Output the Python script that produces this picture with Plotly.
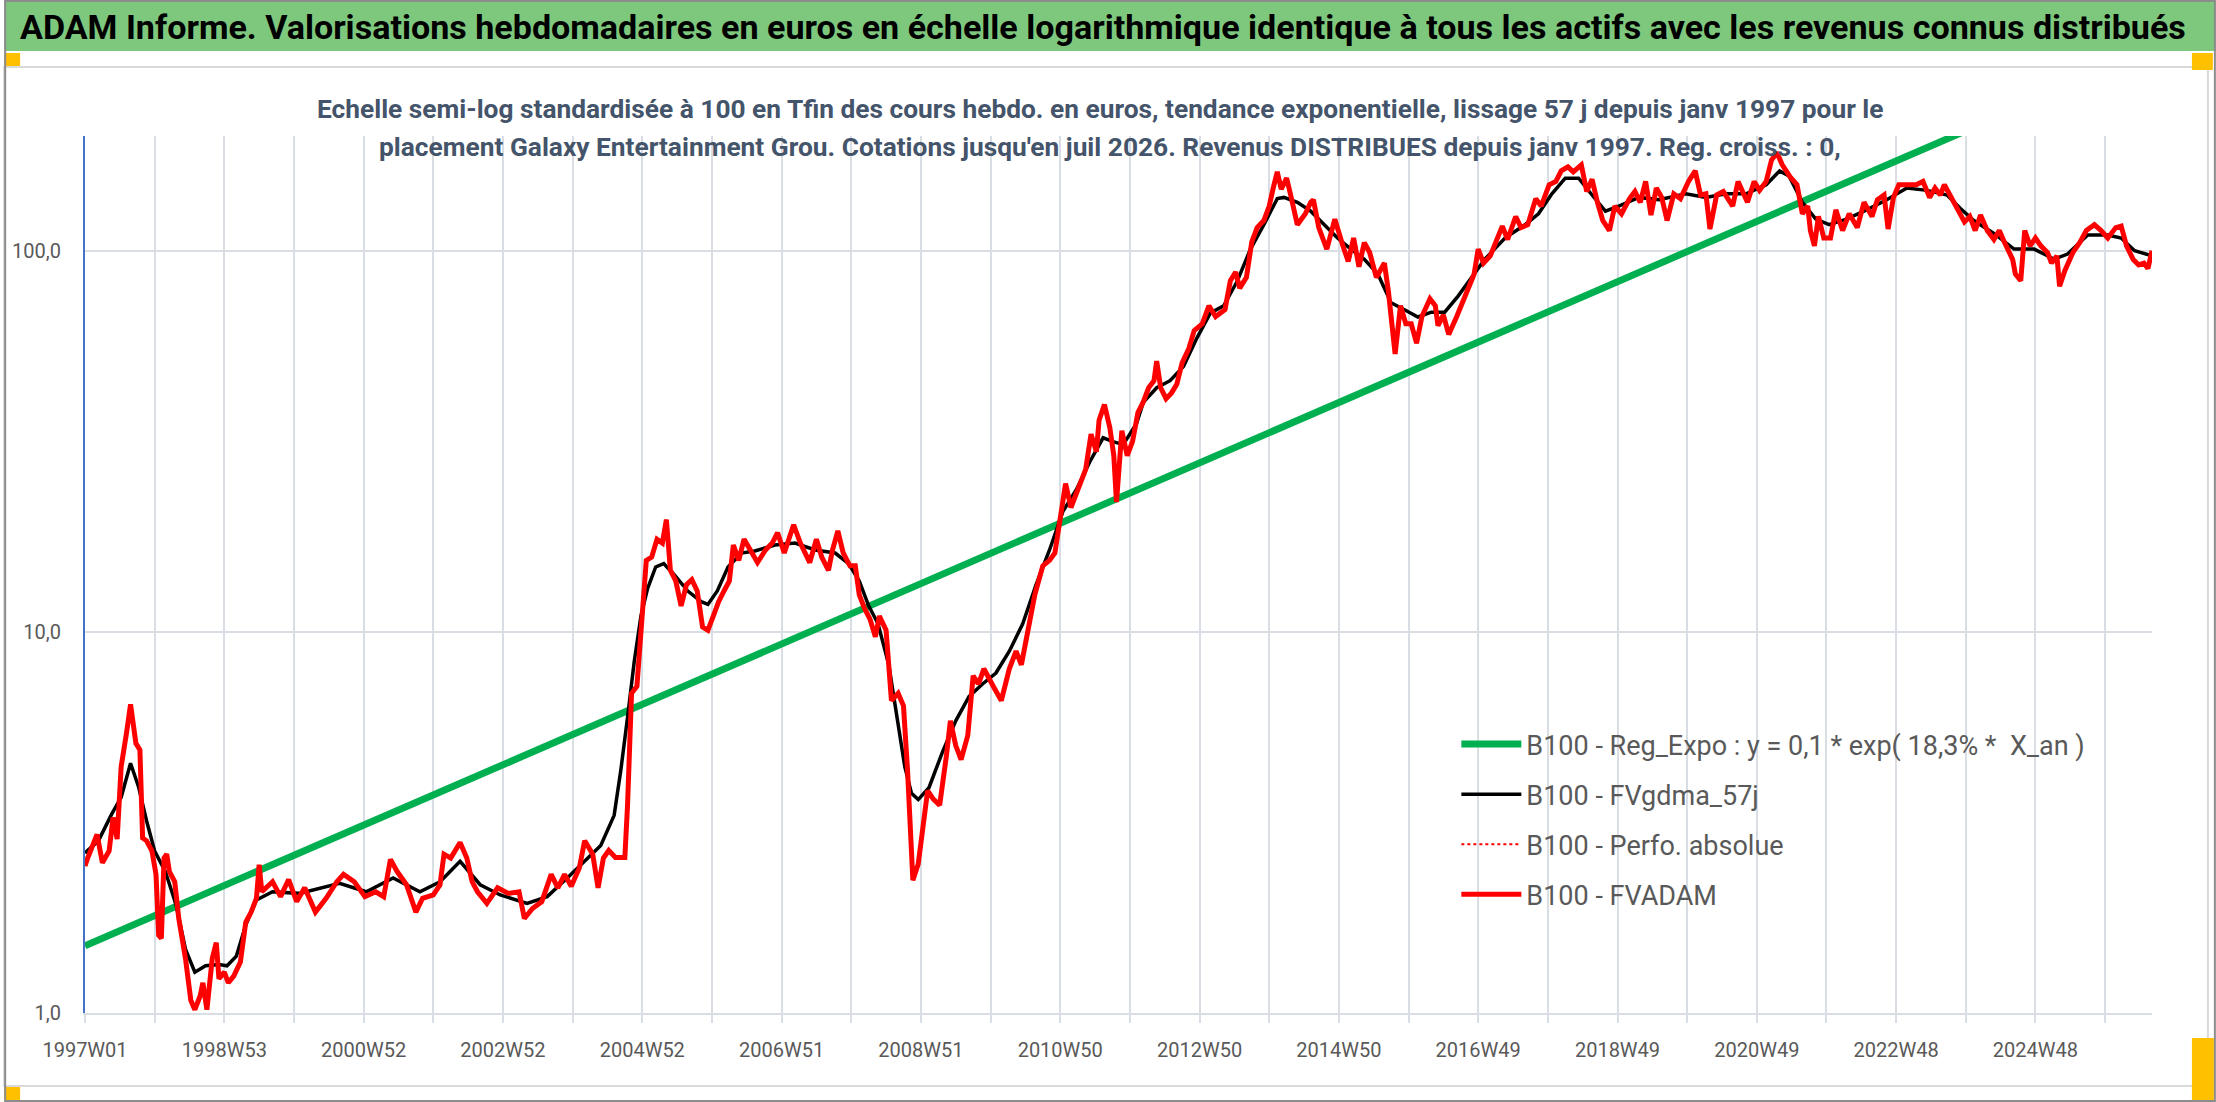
"""ADAM weekly valuation chart (log scale) rebuilt with Plotly."""

from datetime import date, timedelta

import plotly.graph_objects as go

# --- data -----------------------------------------------------------------

N_WEEKS = 1544  # 1997W01 .. 2026W31

# FVADAM (red), sampled weekly index -> value
fvadam_week = [
    0, 2, 9, 13, 18, 21, 24, 27, 31, 34, 38, 41, 43, 46, 50, 53, 55, 57, 59, 61,
    63, 67, 70, 75, 79, 82, 86, 88, 91, 95, 98, 100, 104, 107, 111, 116, 120, 124, 128, 130,
    132, 140, 146, 152, 158, 164, 172, 180, 188, 193, 201, 209, 217, 223, 228, 233, 240, 247, 252, 260,
    265, 268, 273, 280, 285, 289, 293, 300, 308, 316, 324, 328, 334, 341, 348, 353, 358, 363, 369, 373,
    379, 383, 387, 391, 396, 403, 405, 408, 412, 415, 419, 423, 427, 431, 434, 437, 441, 445, 449, 453,
    457, 461, 465, 469, 473, 477, 481, 484, 488, 492, 497, 502, 508, 513, 517, 522, 529, 534, 541, 546,
    550, 555, 558, 562, 566, 571, 575, 578, 582, 586, 590, 593, 598, 602, 607, 611, 614, 618, 622, 626,
    629, 633, 638, 643, 646, 650, 654, 659, 663, 667, 671, 678, 684, 690, 695, 699, 704, 709, 715, 720,
    724, 728, 732, 736, 741, 747, 751, 755, 757, 761, 765, 768, 770, 774, 778, 782, 786, 790, 794, 798,
    800, 803, 807, 811, 815, 819, 824, 828, 834, 839, 844, 851, 855, 859, 862, 867, 871, 875, 880, 884,
    887, 890, 893, 897, 900, 905, 911, 915, 917, 921, 927, 933, 939, 943, 947, 951, 955, 959, 964, 970,
    973, 976, 978, 982, 986, 990, 994, 998, 1004, 1008, 1010, 1014, 1018, 1024, 1028, 1033, 1037, 1040, 1044, 1049,
    1054, 1058, 1062, 1068, 1072, 1077, 1083, 1087, 1093, 1098, 1102, 1107, 1111, 1117, 1121, 1125, 1129, 1133, 1138, 1142,
    1147, 1153, 1157, 1161, 1165, 1169, 1173, 1177, 1181, 1186, 1191, 1197, 1202, 1206, 1210, 1213, 1218, 1223, 1230, 1234,
    1241, 1246, 1250, 1255, 1259, 1263, 1267, 1273, 1278, 1282, 1286, 1288, 1291, 1294, 1298, 1303, 1307, 1312, 1317, 1323,
    1328, 1334, 1338, 1343, 1346, 1350, 1354, 1360, 1367, 1372, 1377, 1381, 1385, 1388, 1393, 1399, 1403, 1407, 1411, 1415,
    1420, 1425, 1429, 1433, 1439, 1441, 1445, 1448, 1452, 1456, 1460, 1465, 1468, 1472, 1474, 1478, 1484, 1489, 1494, 1500,
    1505, 1510, 1516, 1520, 1524, 1529, 1533, 1537, 1540, 1543,
]
fvadam = [
    2.43, 2.55, 2.94, 2.48, 2.66, 3.26, 2.86, 4.43, 5.43, 6.45, 5.1, 4.9, 2.88, 2.83, 2.66, 2.31, 1.60, 1.57, 2.55, 2.61,
    2.35, 2.21, 1.77, 1.39, 1.08, 1.02, 1.11, 1.20, 1.02, 1.39, 1.53, 1.23, 1.28, 1.20, 1.25, 1.36, 1.73, 1.84, 2.0, 2.45,
    2.08, 2.21, 2.02, 2.24, 1.96, 2.13, 1.84, 2.0, 2.21, 2.31, 2.21, 2.02, 2.08, 2.02, 2.53, 2.35, 2.17, 1.84, 2.0, 2.04,
    2.17, 2.61, 2.55, 2.80, 2.55, 2.21, 2.08, 1.94, 2.13, 2.06, 2.08, 1.77, 1.88, 1.96, 2.31, 2.13, 2.31, 2.15, 2.40, 2.83,
    2.61, 2.13, 2.55, 2.67, 2.56, 2.56, 3.51, 6.9, 7.2, 10.1, 15.4, 15.7, 17.5, 17.1, 19.7, 14.5, 13.6, 11.7, 13.3, 13.7,
    12.8, 10.3, 10.1, 11.0, 12.0, 12.8, 13.6, 16.9, 15.4, 17.5, 16.4, 15.2, 16.4, 17.1, 18.2, 16.1, 19.1, 17.1, 15.2, 17.5,
    15.7, 14.5, 16.4, 18.4, 16.1, 14.9, 14.9, 12.5, 11.5, 10.8, 9.7, 11.0, 10.1, 6.6, 6.9, 6.4, 4.34, 2.23, 2.46, 3.16,
    3.83, 3.65, 3.51, 4.72, 5.84, 5.03, 4.62, 5.35, 7.67, 7.3, 8.0, 7.2, 6.6, 8.0, 8.9, 8.2, 10.1, 12.5, 14.9, 15.4,
    16.1, 19.9, 24.5, 21.2, 23.6, 26.7, 33.0, 29.7, 35.9, 39.5, 34.4, 29.0, 21.9, 33.7, 29.0, 31.6, 37.6, 40.1, 43.7, 45.6,
    51.3, 43.7, 40.9, 42.3, 44.6, 50.8, 55.4, 61.7, 64.3, 71.7, 67.2, 70.1, 83.4, 87.9, 79.8, 85.1, 105.5, 115, 120, 131,
    146, 161, 145, 155, 140, 117, 125, 134, 136, 115, 101, 121, 103, 93.7, 108, 90.8, 105, 98.9, 85.1, 92.8,
    78.1, 61.7, 53.6, 71.7, 64.3, 64.3, 57.2, 67.2, 74.8, 71.7, 63.6, 67.9, 60.3, 67.2, 73.1, 81.5, 86.9, 101, 92.8, 96.9,
    108, 116, 107, 123, 115, 117, 137, 131, 149, 152, 162, 166, 161, 168, 143, 154, 134, 120, 113, 131,
    125, 137, 143, 134, 152, 124, 146, 138, 120, 141, 137, 152, 162, 140, 141, 114, 140, 143, 131, 152,
    134, 152, 144, 152, 173, 181, 168, 156, 149, 125, 131, 113, 103, 123, 108, 108, 128, 113, 125, 115,
    134, 123, 136, 140, 114, 138, 149, 149, 149, 152, 138, 146, 140, 149, 138, 125, 119, 123, 113, 124,
    113, 107, 113, 105, 94.8, 86.9, 83.4, 113, 103, 108, 103, 98.9, 92.8, 96.9, 80.7, 88.8, 99, 105, 113, 117,
    113, 108, 115, 116, 103, 94.8, 91.8, 92.8, 89.8, 100,
]

# FVgdma_57j (black smoothed curve)
gdma_week = [
    0, 10, 20, 27, 34, 40, 46, 52, 60, 68, 75, 82, 90, 100, 106, 113, 120, 128, 140, 160,
    190, 210, 230, 250, 265, 280, 295, 310, 330, 345, 360, 375, 385, 395, 400, 405, 410, 415, 420, 426,
    432, 440, 450, 460, 465, 472, 480, 490, 500, 515, 530, 545, 560, 570, 578, 585, 592, 600, 606, 612,
    617, 622, 630, 640, 650, 660, 670, 680, 690, 700, 710, 720, 730, 740, 750, 760, 768, 775, 785, 790,
    800, 810, 820, 830, 840, 850, 860, 870, 880, 890, 895, 905, 915, 925, 935, 945, 955, 965, 975, 985,
    995, 1005, 1015, 1025, 1035, 1045, 1060, 1075, 1085, 1095, 1105, 1115, 1125, 1135, 1145, 1160, 1175, 1195, 1210, 1225,
    1240, 1255, 1265, 1272, 1282, 1292, 1302, 1315, 1330, 1345, 1360, 1375, 1390, 1400, 1410, 1425, 1440, 1455, 1470, 1480,
    1495, 1510, 1520, 1530, 1543,
]
gdma = [
    2.63, 2.83, 3.33, 3.68, 4.52, 3.92, 3.19, 2.66, 2.35, 1.92, 1.47, 1.28, 1.33, 1.34, 1.33, 1.41, 1.70, 1.98, 2.08, 2.06,
    2.19, 2.08, 2.26, 2.08, 2.21, 2.5, 2.17, 2.04, 1.94, 2.02, 2.26, 2.55, 2.75, 3.3, 4.34, 5.96, 8.36, 11.0, 13.0, 14.8,
    15.1, 14.1, 12.8, 12.0, 11.8, 12.8, 14.8, 16.1, 16.3, 16.9, 17.1, 16.4, 16.1, 15.1, 13.6, 11.7, 10.5, 8.2, 5.96, 4.42,
    3.77, 3.63, 3.9, 4.83, 5.84, 6.77, 7.3, 7.8, 8.9, 10.5, 13.3, 16.4, 20.7, 23.6, 27.9, 32.3, 31.5, 31.0, 35.2, 40,
    43.7, 45.6, 49.7, 59, 68.6, 71.7, 83, 101, 117, 137, 138, 134, 127, 117, 108, 101, 95, 87, 73, 70,
    67, 69, 69, 76, 85, 95, 108, 117, 125, 141, 155, 155, 140, 127, 131, 138, 136, 141, 138, 141,
    141, 149, 162, 157, 134, 121, 117, 121, 128, 136, 146, 144, 140, 129, 120, 111, 101, 101, 95, 98,
    110, 110, 108, 100, 97,
]

# exponential regression, first and last week
reg_week = [0, 1543]
reg_expo = [1.5, 336]

y_tickvals = [1, 10, 100]
y_ticktext = ["1,0", "10,0", "100,0"]

TITLE = ("ADAM Informe. Valorisations hebdomadaires en euros en échelle logarithmique "
         "identique à tous les actifs avec les revenus connus distribués")
SUB1 = ("Echelle semi-log standardisée à 100 en Tfin des cours hebdo. en euros, tendance "
        "exponentielle, lissage 57 j depuis janv 1997 pour le")
SUB2 = ("placement Galaxy Entertainment Grou. Cotations jusqu'en juil 2026. Revenus "
        "DISTRIBUES depuis janv 1997. Reg. croiss. : 0,")

# ISO week categories
start = date.fromisocalendar(1997, 1, 1)
weeks = []
for i in range(N_WEEKS):
    y, w, _ = (start + timedelta(weeks=i)).isocalendar()
    weeks.append(f"{y}W{w:02d}")

grid_vals = weeks[::52]
grid_text = [lab if k % 2 == 0 else "" for k, lab in enumerate(grid_vals)]

# --- layout helpers ---------------------------------------------------------

W, H = 2216, 1102
L, R, T, B = 81, 2152, 136, 1013
FONT = "Roboto, Liberation Sans, sans-serif"
GRID = "#D9DEE5"


def px_x(x: float) -> float:
    return (x - L) / (R - L)


def px_y(y: float) -> float:
    return (B - y) / (B - T)


def rect(x0, y0, x1, y1, **kw) -> dict:
    return dict(type="rect", xref="paper", yref="paper",
                x0=px_x(x0), x1=px_x(x1), y0=px_y(y1), y1=px_y(y0), **kw)


fig = go.Figure()
fig.add_trace(go.Scatter(
    x=[weeks[i] for i in reg_week], y=reg_expo, mode="lines",
    line=dict(color="#00B050", width=7),
    name="B100 - Reg_Expo : y = 0,1 * exp( 18,3% *  X_an )", legendgroup="g1",
))
fig.add_trace(go.Scatter(
    x=[weeks[i] for i in gdma_week], y=gdma, mode="lines",
    line=dict(color="black", width=3.5),
    name="B100 - FVgdma_57j", legendgroup="g2",
))
fig.add_trace(go.Scatter(
    x=[weeks[i] for i in fvadam_week], y=fvadam, mode="lines",
    line=dict(color="#FF0000", width=2, dash="dot"),
    name="B100 - Perfo. absolue", legendgroup="g3",
))
fig.add_trace(go.Scatter(
    x=[weeks[i] for i in fvadam_week], y=fvadam, mode="lines",
    line=dict(color="#FF0000", width=5),
    name="B100 - FVADAM", legendgroup="g4",
))

shapes = [
    rect(0, 67, 2208, 1086, line=dict(color="#D9D9D9", width=2), layer="below"),
    rect(0, 0, W, 51, fillcolor="#7EC87E", line=dict(width=0), layer="below"),
    rect(0, 53, 16, 66, fillcolor="#FFC000", line=dict(width=0)),
    rect(2192, 53, 2213, 70, fillcolor="#FFC000", line=dict(width=0)),
    rect(0, 1087, 16, 1100, fillcolor="#FFC000", line=dict(width=0)),
    rect(2192, 1038, 2214, 1100, fillcolor="#FFC000", line=dict(width=0)),
    rect(1, 1, W - 1, H - 1, line=dict(color="#8C8C8C", width=2)),
]

annotations = [
    dict(text=TITLE, xref="paper", yref="paper", x=px_x(14), y=px_y(27),
         xanchor="left", yanchor="middle", showarrow=False,
         font=dict(family=FONT, size=34.1, color="black", weight="bold")),
    dict(text=SUB1, xref="paper", yref="paper", x=px_x(1098), y=px_y(109),
         xanchor="center", yanchor="middle", showarrow=False,
         font=dict(family=FONT, size=26.3, color="#44546A", weight="bold")),
    dict(text=SUB2, xref="paper", yref="paper", x=px_x(1108), y=px_y(147),
         xanchor="center", yanchor="middle", showarrow=False,
         font=dict(family=FONT, size=26.3, color="#44546A", weight="bold")),
]

fig.update_layout(
    width=W, height=H,
    margin=dict(l=L, r=W - R, t=T, b=H - B, pad=0),
    paper_bgcolor="white", plot_bgcolor="white",
    font=dict(family=FONT, size=20, color="#595959"),
    showlegend=True,
    legend=dict(
        x=px_x(1455), y=px_y(720), xanchor="left", yanchor="top",
        bgcolor="rgba(0,0,0,0)", font=dict(size=27, color="#595959"),
        tracegroupgap=12, itemwidth=60,
    ),
    shapes=shapes,
    annotations=annotations,
)
fig.update_xaxes(
    type="category", categoryorder="array", categoryarray=weeks,
    range=[0, N_WEEKS - 1],
    tickmode="array", tickvals=grid_vals, ticktext=grid_text,
    showgrid=True, gridcolor=GRID, gridwidth=2,
    showline=True, linecolor=GRID, linewidth=2,
    ticks="outside", ticklen=8, tickcolor=GRID, tickwidth=2,
    ticklabelstandoff=10, tickangle=0, zeroline=False,
)
fig.update_yaxes(
    type="log", range=[0, 2.301],
    tickmode="array", tickvals=y_tickvals, ticktext=y_ticktext,
    showgrid=True, gridcolor=GRID, gridwidth=2,
    showline=True, linecolor="#4472C4", linewidth=2,
    ticks="", ticklabelstandoff=18, zeroline=False,
)

fig.write_html(
    "out.html",
    config={"displayModeBar": False},
    post_script="document.body.style.margin='0';document.body.style.overflow='hidden';",
)
